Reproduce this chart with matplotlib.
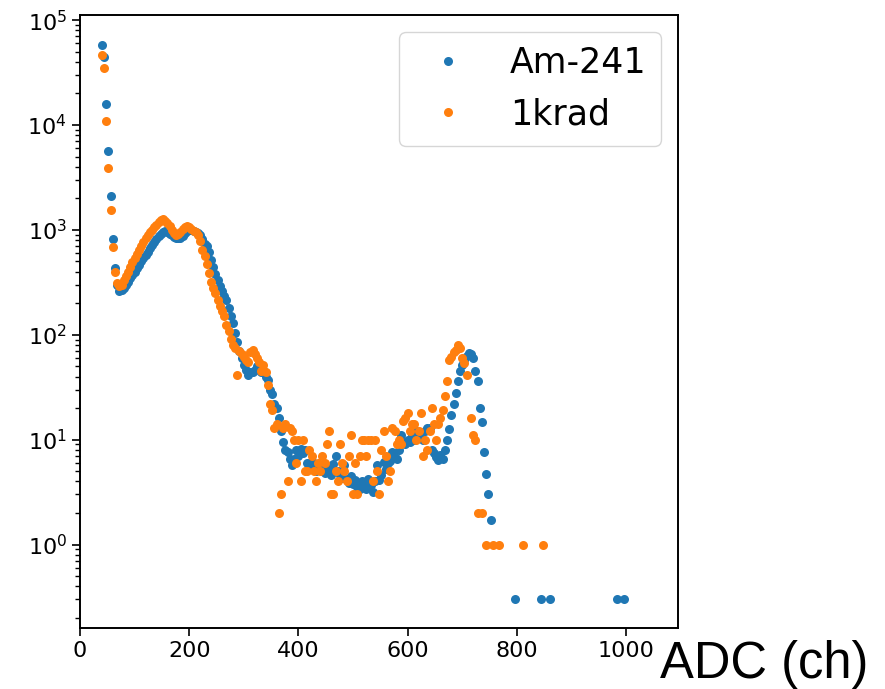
import numpy as np
import matplotlib
matplotlib.use('Agg')
import matplotlib.pyplot as plt

# ADC spectra, channel bins of 4 starting at 40
ch_start = 40
ch_step = 4

am241 = [
    58000, 45000, 16000, 5600, 2100, 820, 430, 300, 260, 265,   # 40
    280, 300, 320, 345, 370, 400, 430, 460, 500, 540,           # 80
    580, 620, 670, 720, 770, 820, 870, 920, 960, 980,           # 120
    950, 920, 890, 860, 840, 830, 840, 880, 930, 980,           # 160
    1000, 990, 970, 950, 930, 900, 820, 740, 700, 620,          # 200
    520, 440, 380, 330, 290, 260, 235, 215, 180, 150,           # 240
    130, 105, 85, 70, 60, 52, 46, 41, 44, 44,                   # 280
    46, 50, 48, 44, 46, 40, 37, 30, 27, 22,                     # 320
    20, 16, 12, 9.5, 8.0, 7.6, 6.5, 5.7, 6.5, 8.0,              # 360
    7.0, 8.2, 7.5, 8.0, 6.0, 5.7, 6.2, 5.4, 5.0, 5.3,           # 400
    5.6, 5.0, 4.8, 5.5, 5.2, 4.6, 5.8, 7.0, 5.0, 4.6,           # 440
    4.3, 5.7, 4.2, 3.9, 4.5, 3.8, 4.1, 3.5, 3.4, 4.0,           # 480
    3.6, 3.4, 4.2, 3.7, 3.2, 4.0, 5.7, 4.1, 4.6, 6.1,           # 520
    5.3, 6.0, 6.3, 7.6, 6.8, 6.5, 8.0, 11, 9.5, 9.0,            # 560
    10, 9.5, 11, 10, 12, 11, 11, 10, 12, 13,                    # 600
    13, 8.0, 7.5, 6.8, 6.4, 7.2, 6.6, 7.9, 10, 12.6,            # 640
    17, 22, 28, 36, 45, 52, 58, 63, 67, 65,                     # 680
    60, 45, 36, 20, 14.6, 7.6, 4.7, 3.0, 1.7,                   # 720
]
am241_tail_ch = [796, 844, 860, 984, 996]
am241_tail = [0.3, 0.3, 0.3, 0.3, 0.3]

krad1 = [
    47000, 35000, 11000, 3900, 1550, 690, 400, 310, 290, 300,   # 40
    330, 360, 400, 440, 490, 540, 590, 650, 710, 770,           # 80
    830, 890, 950, 1000, 1060, 1120, 1180, 1230, 1260, 1220,    # 120
    1170, 1100, 1000, 930, 900, 920, 960, 1020, 1070, 1090,     # 160
    1070, 1020, 980, 950, 900, 780, 640, 560, 470, 390,         # 200
    320, 280, 250, 214, 190, 168, 150, 125, 108, 92,            # 240
    80, 74, 41, 70, 66, 62, 58, 55, 68, 72,                     # 280
    65, 60, 55, 45, 52, 44, 33, 22, 19, 13,                     # 320
    14, 2, 3, 13, 14, 4, 13, 12, 10, 6,                         # 360
    10, 4, 10, 5, 5, 8, 7, 5, 4, 6,                             # 400
    5, 7, 6, 9, 12, 3, 3, 5, 4, 9,                              # 440
    6, 5, 4, 7, 11, 3, 6, 3, 7, 10,                             # 480
    10, 7, 10, 10, 4, 10, 5, 3, 8, 12,                          # 520
    7, 4, 5, 13, 12, 9, 10, 9, 15, 16,                          # 560
    18, 12, 14, 14, 10, 12, 18, 7, 10, 8,                       # 600
    12, 20, 14, 10, 14, 16, 19, 26, 36, 58,                     # 640
    62, 68, 72, 80, 74, 60, 54, 41, np.nan, 16,                 # 680
    11, 10, 2, np.nan, 2, np.nan, 1, np.nan, np.nan,            # 720
]
krad1_tail_ch = [756, 768, 812, 848]
krad1_tail = [1, 1, 1, 1]

am_x = np.concatenate([ch_start + ch_step * np.arange(len(am241)), am241_tail_ch])
am_y = np.concatenate([am241, am241_tail])
kr_x = np.concatenate([ch_start + ch_step * np.arange(len(krad1)), krad1_tail_ch])
kr_y = np.concatenate([krad1, krad1_tail])

fig = plt.figure(figsize=(8.85, 6.89), dpi=100)
ax = fig.add_axes([80 / 885, 61 / 689, 598 / 885, 613 / 689])

ax.plot(am_x, am_y, 'o', ms=6.5, mew=0, color='#1f77b4', label='Am-241')
ax.plot(kr_x, kr_y, 'o', ms=6.5, mew=0, color='#ff7f0e', label='1krad')

ax.set_yscale('log')
ax.set_xlim(0, 1095)
ax.set_ylim(0.16, 1.12e5)

ax.tick_params(which='major', labelsize=16, length=6, width=1.2)
ax.tick_params(which='minor', length=3.5, width=1.0)
for s in ax.spines.values():
    s.set_linewidth(1.4)

ax.legend(loc='upper right', fontsize=25, handletextpad=0.8)

fig.text(660 / 885, 11 / 689, 'ADC (ch)', fontsize=36.5, family='Liberation Sans',
         ha='left', va='baseline')

fig.savefig('out.png', dpi=100)
